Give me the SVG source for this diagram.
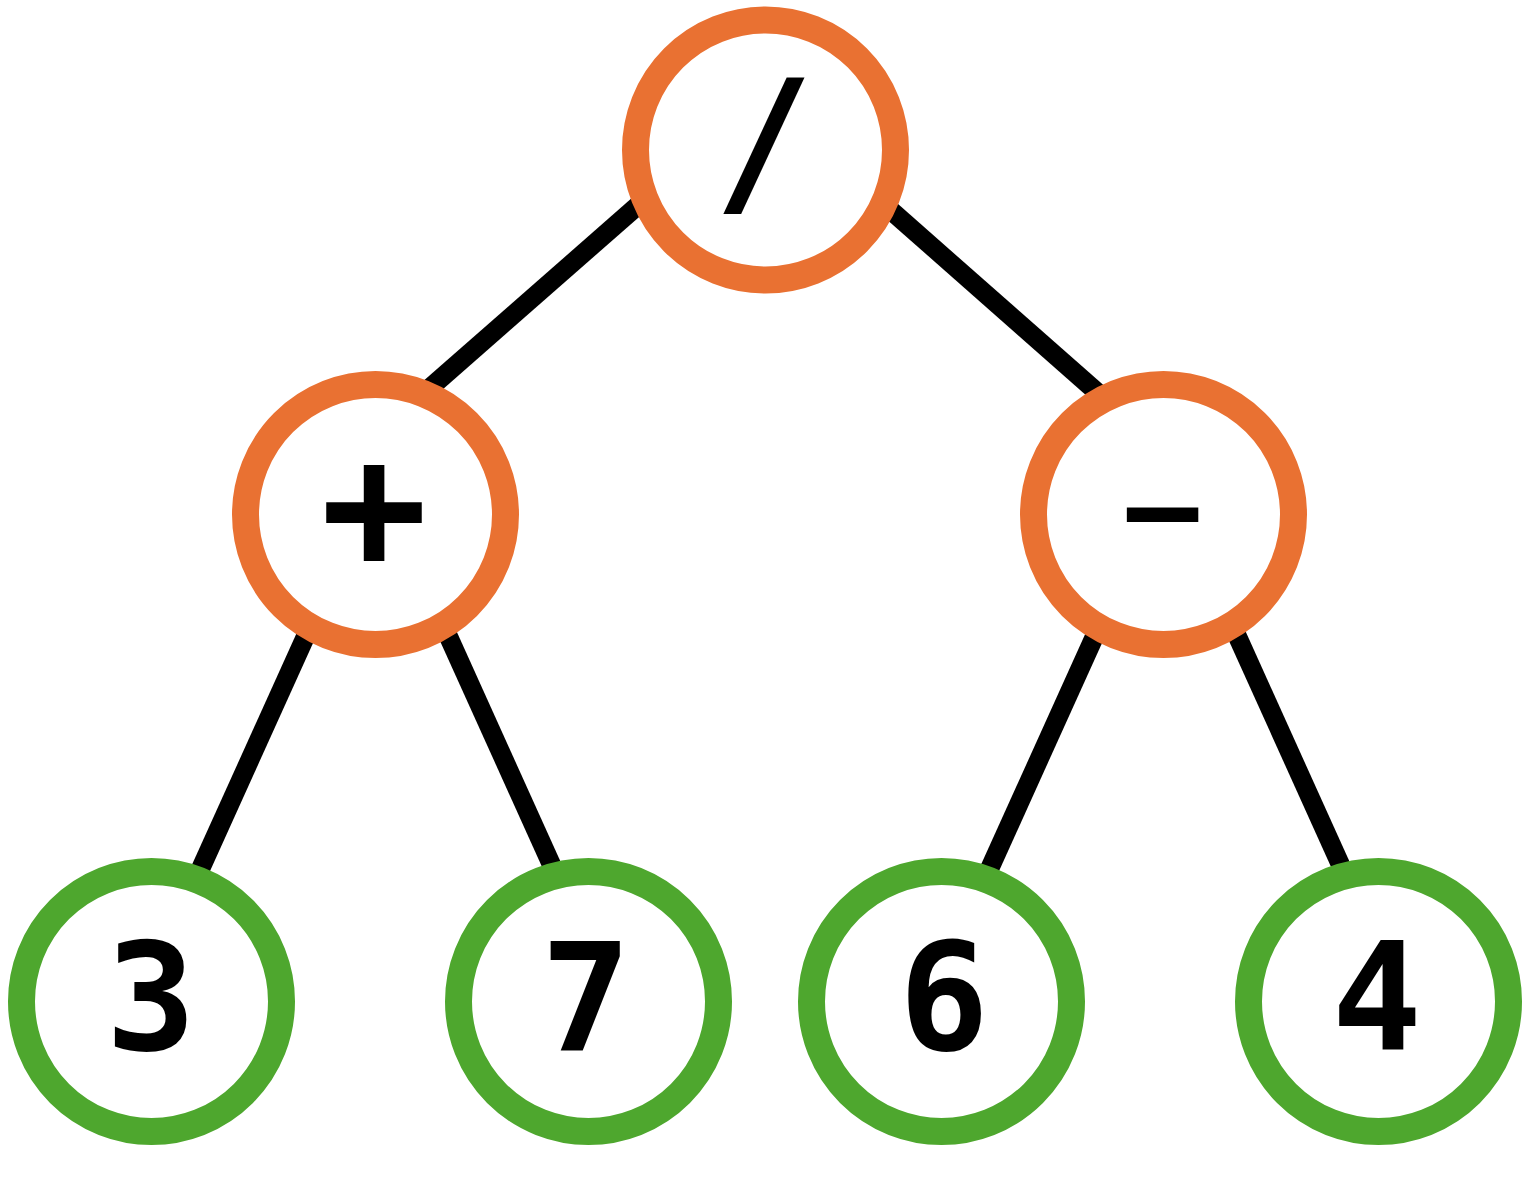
<svg xmlns="http://www.w3.org/2000/svg" width="1530" height="1200" viewBox="0 0 1530 1200">
<style>
.op{fill:#fff;stroke:#E97132;stroke-width:27}
.lf{fill:#fff;stroke:#4EA72E;stroke-width:27}
.t{font-family:'DejaVu Sans Mono',monospace;font-weight:bold;font-size:150px;fill:#000;text-anchor:middle}
.e{stroke:#000;stroke-width:19;fill:none}
</style>
<rect width="1530" height="1200" fill="#fff"/>
<g id="edges">
<line class="e" x1="660" y1="186" x2="415" y2="401"/>
<line class="e" x1="870" y1="192" x2="1115" y2="408"/>
<line class="e" x1="313" y1="620" x2="191" y2="890"/>
<line class="e" x1="441" y1="620" x2="562" y2="888"/>
<line class="e" x1="1102" y1="620" x2="980" y2="890"/>
<line class="e" x1="1230" y1="620" x2="1351" y2="888"/>
</g>
<g id="root"><circle class="op" cx="765.5" cy="150" r="130"/><text class="t" x="764" y="199" style="font-size:165px">/</text></g>
<g id="plus"><circle class="op" cx="375.5" cy="514.5" r="130"/><text class="t" x="374" y="569" style="font-size:178px">+</text></g>
<g id="minus"><circle class="op" cx="1163.5" cy="514.5" r="130"/><text class="t" transform="translate(1162.5,544) scale(1.45,0.63)" x="0" y="0" style="font-size:160px">-</text></g>
<g id="n3"><circle class="lf" cx="151.5" cy="1001.5" r="130"/><text class="t" x="151" y="1050">3</text></g>
<g id="n7"><circle class="lf" cx="588.5" cy="1001.5" r="130"/><text class="t" x="586" y="1050">7</text></g>
<g id="n6"><circle class="lf" cx="941.5" cy="1001.5" r="130"/><text class="t" x="944" y="1050">6</text></g>
<g id="n4"><circle class="lf" cx="1378.5" cy="1001.5" r="130"/><text class="t" x="1377" y="1050">4</text></g>
</svg>
